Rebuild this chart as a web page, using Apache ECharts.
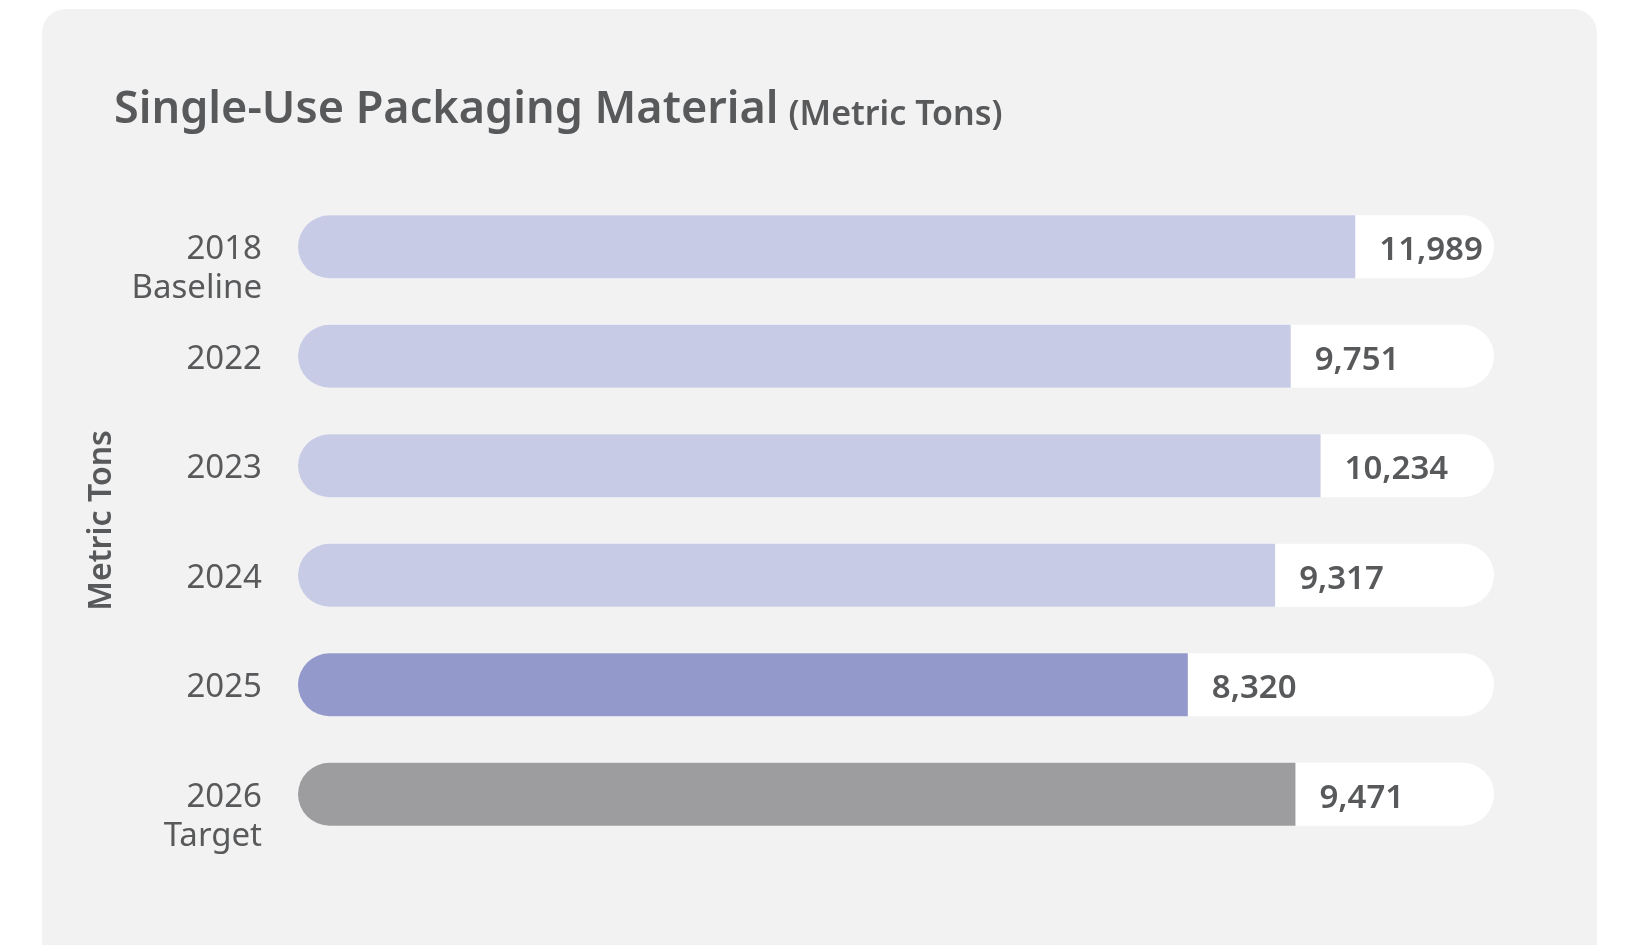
<!DOCTYPE html>
<html>
<head>
<meta charset="utf-8">
<title>Single-Use Packaging Material</title>
<script src="https://cdn.jsdelivr.net/npm/echarts@6/dist/echarts.min.js"></script>
<style>
  html, body { margin: 0; padding: 0; background: #ffffff; }
  #panel {
    position: absolute; left: 42px; top: 9px; width: 1555px; height: 980px;
    background: #f2f2f2; border-radius: 24px;
  }
  #chart { position: absolute; left: 0; top: 0; width: 1625px; height: 945px; }
</style>
</head>
<body>
<div id="panel"></div>
<div id="chart"></div>
<script>
// Categories (top to bottom) and the label under each year
const years = ["2018", "2022", "2023", "2024", "2025", "2026"];
const subLabels = ["Baseline", "", "", "", "", "Target"];

// Values printed at the end of each bar (metric tons)
const tons = [11989, 9751, 10234, 9317, 8320, 9471];

// Bar lengths as drawn, in percent of the white track (the infographic is not to scale)
const barLength = [88.4, 83.0, 85.5, 81.7, 74.4, 83.4];
const trackLength = [100, 100, 100, 100, 100, 100];

// Fill colour per bar
const barColors = ["#c8cbe5", "#c8cbe5", "#c8cbe5", "#c8cbe5", "#9399cb", "#9d9d9f"];

const textColor = "#58595b";
const font = "Noto Sans";

const chart = echarts.init(document.getElementById("chart"));

const option = {
  backgroundColor: "transparent",
  title: {
    left: 109,
    top: 72,
    text: "{a|Single-Use Packaging Material} {b|(Metric Tons)}",
    textStyle: {
      rich: {
        a: { fontFamily: font, fontSize: 45, fontWeight: 600, color: textColor, lineHeight: 56, verticalAlign: "bottom" },
        b: { fontFamily: font, fontSize: 34, fontWeight: 600, color: textColor, lineHeight: 56, verticalAlign: "bottom", padding: [0, 0, 1, 5] }
      }
    }
  },
  grid: { left: 298, right: 131, top: 192, bottom: 96, containLabel: false },
  xAxis: {
    type: "value",
    min: 0,
    max: 100,
    show: false
  },
  yAxis: {
    type: "category",
    inverse: true,
    data: years,
    name: "Metric Tons",
    nameLocation: "middle",
    nameGap: 180,
    nameRotate: 90,
    nameTextStyle: { fontFamily: font, fontSize: 32, fontWeight: 600, color: textColor },
    axisLine: { show: false },
    axisTick: { show: false },
    splitLine: { show: false },
    axisLabel: {
      margin: 36,
      formatter: function (value, index) {
        const sub = subLabels[index];
        if (!sub) return "{y|" + value + "}";
        return "{e| }\n{y|" + value + "}\n{s|" + sub + "}";
      },
      rich: {
        y: { fontFamily: font, fontSize: 33, color: textColor, lineHeight: 42, align: "right", padding: [6, 0, 0, 0] },
        s: { fontFamily: font, fontSize: 33, color: textColor, lineHeight: 42, align: "right" },
        e: { fontSize: 10, lineHeight: 42 }
      }
    }
  },
  series: [
    {
      // white track behind each bar
      type: "bar",
      data: trackLength,
      barWidth: 63,
      barGap: "-100%",
      silent: true,
      itemStyle: { color: "#ffffff", borderRadius: 32 },
      z: 1
    },
    {
      type: "bar",
      data: barLength.map((v, i) => ({ value: v, itemStyle: { color: barColors[i] } })),
      barWidth: 63,
      barGap: "-100%",
      itemStyle: { borderRadius: [32, 0, 0, 32] },
      label: {
        show: true,
        position: "right",
        distance: 24,
        offset: [0, 4],
        fontFamily: font,
        fontSize: 33,
        fontWeight: 600,
        color: textColor,
        formatter: (p) => tons[p.dataIndex].toLocaleString("en-US")
      },
      z: 2
    }
  ]
};

chart.setOption(option);
</script>
</body>
</html>
